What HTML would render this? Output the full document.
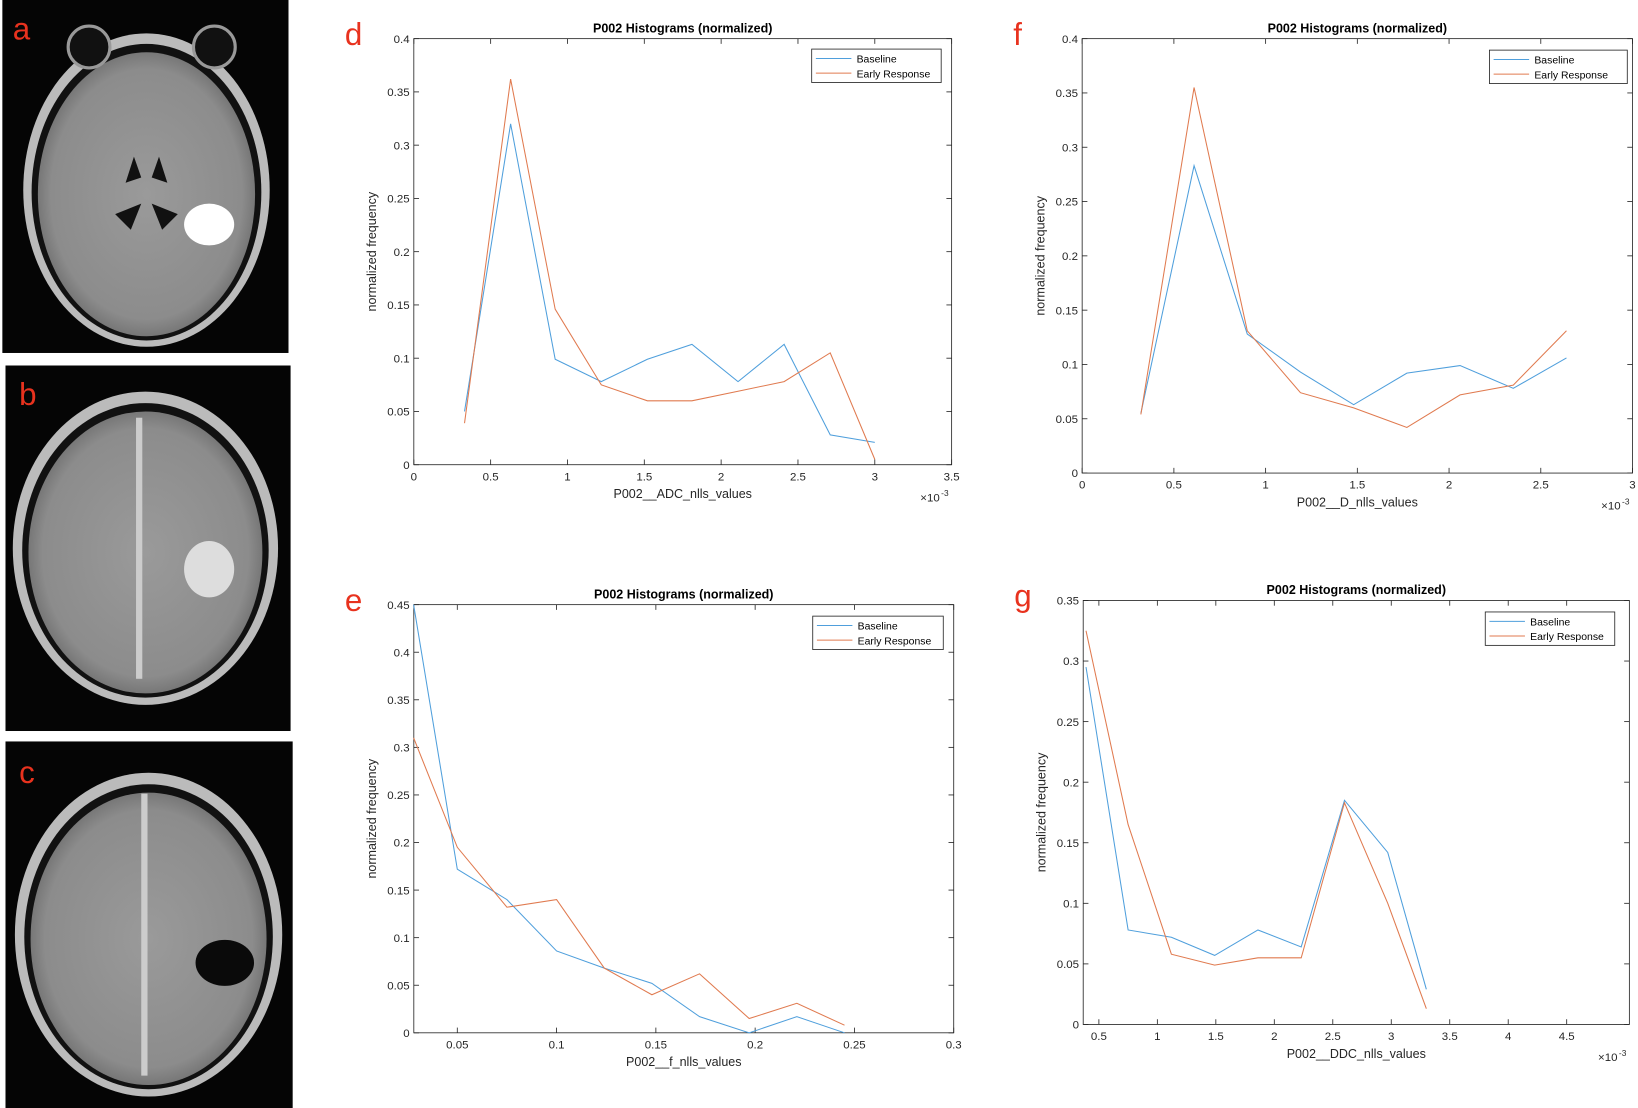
<!DOCTYPE html>
<html><head><meta charset="utf-8"><style>
html,body{margin:0;padding:0;background:#fff;}
svg{display:block;font-family:"Liberation Sans",sans-serif;}
</style></head><body>
<svg id="fig" width="1638" height="1108" viewBox="0 0 1568 1061" xmlns="http://www.w3.org/2000/svg">
<defs>
<radialGradient id="brain" cx="50%" cy="50%" r="55%"><stop offset="0" stop-color="#9a9a9a"/><stop offset="0.8" stop-color="#8c8c8c"/><stop offset="1" stop-color="#666"/></radialGradient>
</defs>
<g>
<rect x="2" y="0" width="274" height="338" fill="#050505"/>
<ellipse cx="140" cy="182" rx="118" ry="150" fill="#bbb"/>
<ellipse cx="140" cy="184" rx="110" ry="142" fill="#111"/>
<ellipse cx="140" cy="186" rx="104" ry="136" fill="url(#brain)"/>
<circle cx="85" cy="45" r="20" fill="#111" stroke="#999" stroke-width="3"/><circle cx="205" cy="45" r="20" fill="#111" stroke="#999" stroke-width="3"/>
<path d="M128 150 L120 175 L135 170 Z M152 150 L160 175 L145 170 Z M110 205 L135 195 L125 220 Z M170 205 L145 195 L155 220 Z" fill="#111"/>
<ellipse cx="200" cy="215" rx="24" ry="20" fill="#fff"/>
<text x="12" y="38" font-size="30" fill="#e8321e">a</text>
</g>
<g>
<rect x="5" y="350" width="273" height="350" fill="#050505"/>
<ellipse cx="139" cy="525" rx="127" ry="150" fill="#bbb"/>
<ellipse cx="139" cy="527" rx="118" ry="141" fill="#111"/>
<ellipse cx="139" cy="529" rx="112" ry="135" fill="url(#brain)"/>
<rect x="130" y="400" width="6" height="250" fill="#ccc"/>
<ellipse cx="200" cy="545" rx="24" ry="27" fill="#ddd"/>
<text x="18" y="388" font-size="30" fill="#e8321e">b</text>
</g>
<g>
<rect x="5" y="710" width="275" height="351" fill="#050505"/>
<ellipse cx="142" cy="895" rx="128" ry="155" fill="#bbb"/>
<ellipse cx="142" cy="897" rx="119" ry="146" fill="#111"/>
<ellipse cx="142" cy="899" rx="113" ry="140" fill="url(#brain)"/>
<rect x="135" y="760" width="6" height="270" fill="#ccc"/>
<ellipse cx="215" cy="922" rx="28" ry="22" fill="#0a0a0a"/>
<text x="18" y="750" font-size="30" fill="#e8321e">c</text>
</g>
</svg>
<script>
// Chart data
const dX=[0.33,0.63,0.92,1.22,1.52,1.81,2.11,2.41,2.71,3.0];
const dBase=[0.05,0.32,0.099,0.078,0.099,0.113,0.078,0.113,0.028,0.021];
const dEarly=[0.039,0.362,0.146,0.075,0.06,0.06,0.069,0.078,0.105,0.005];
const fX=[0.32,0.61,0.9,1.19,1.48,1.77,2.06,2.35,2.64];
const fBase=[0.055,0.283,0.128,0.093,0.063,0.092,0.099,0.078,0.106];
const fEarly=[0.054,0.355,0.131,0.074,0.06,0.042,0.072,0.081,0.131];
const eX=[0.028,0.05,0.075,0.1,0.124,0.148,0.172,0.197,0.221,0.245];
const eBase=[0.45,0.172,0.14,0.086,0.068,0.052,0.017,0,0.017,0];
const eEarly=[0.31,0.195,0.132,0.14,0.068,0.04,0.062,0.015,0.031,0.008];
const gX=[0.39,0.75,1.12,1.49,1.86,2.23,2.6,2.97,3.3];
const gBase=[0.295,0.078,0.072,0.057,0.078,0.064,0.185,0.142,0.029];
const gEarly=[0.325,0.165,0.058,0.049,0.055,0.055,0.183,0.1,0.013];
const dXTicks=["0","0.5","1","1.5","2","2.5","3","3.5"];
const dYTicks=["0","0.05","0.1","0.15","0.2","0.25","0.3","0.35","0.4"];
const fXTicks=["0","0.5","1","1.5","2","2.5","3"];
const fYTicks=["0","0.05","0.1","0.15","0.2","0.25","0.3","0.35","0.4"];
const eXTicks=["0.05","0.1","0.15","0.2","0.25","0.3"];
const eYTicks=["0","0.05","0.1","0.15","0.2","0.25","0.3","0.35","0.4","0.45"];
const gXTicks=["0.5","1","1.5","2","2.5","3","3.5","4","4.5"];
const gYTicks=["0","0.05","0.1","0.15","0.2","0.25","0.3","0.35"];

const NS="http://www.w3.org/2000/svg";
const svg=document.getElementById('fig');
function mk(tag,attrs,parent){const e=document.createElementNS(NS,tag);for(const k in attrs)e.setAttribute(k,attrs[k]);(parent||svg).appendChild(e);return e;}
function txt(s,attrs,parent){const e=mk('text',attrs,parent);e.textContent=s;return e;}

function chart(c){
  const g=mk('g',{});
  
  
  const sx=v=>c.x0+(v-c.xmin)/(c.xmax-c.xmin)*(c.x1-c.x0);
  const sy=v=>c.y0-(v-c.ymin)/(c.ymax-c.ymin)*(c.y0-c.y1);
  const box=mk('rect',{x:c.x0,y:c.y1,width:c.x1-c.x0,height:c.y0-c.y1,fill:'#fff',stroke:'#262626','stroke-width':0.8},g);
  
  
  c.xt.forEach(t=>{const v=parseFloat(t),x=sx(v);
    mk('line',{x1:x,x2:x,y1:c.y0,y2:c.y0-5,stroke:'#262626','stroke-width':0.8},g);
    mk('line',{x1:x,x2:x,y1:c.y1,y2:c.y1+5,stroke:'#262626','stroke-width':0.8},g);
    const l=txt(t,{x:x,y:c.y0+15,'font-size':11,'text-anchor':'middle',fill:'#262626'},g);
    
    
  });
  c.yt.forEach(t=>{const v=parseFloat(t),y=sy(v);
    mk('line',{x1:c.x0,x2:c.x0+5,y1:y,y2:y,stroke:'#262626','stroke-width':0.8},g);
    mk('line',{x1:c.x1,x2:c.x1-5,y1:y,y2:y,stroke:'#262626','stroke-width':0.8},g);
    const l=txt(t,{x:c.x0-4,y:y+4,'font-size':11,'text-anchor':'end',fill:'#262626'},g);
    
    
  });
  const series=[[c.base,'#4f9fdc','baseline-line'],[c.early,'#e07a4f','early-response-line']];
  series.forEach(([ys,col,nm])=>{
    const p=mk('polyline',{points:c.xs.map((x,i)=>sx(x)+','+sy(ys[i])).join(' '),fill:'none',stroke:col,'stroke-width':1},g);
    
    
  });
  const t=txt('P002 Histograms (normalized)',{x:(c.x0+c.x1)/2,y:c.y1-6,'font-size':12,'font-weight':'bold','text-anchor':'middle',fill:'#000'},g);
  
  
  const xl=txt(c.xlabel,{x:(c.x0+c.x1)/2,y:c.y0+32,'font-size':12,'text-anchor':'middle',fill:'#262626'},g);
  
  
  const yl=txt('normalized frequency',{x:0,y:0,'font-size':12,'text-anchor':'middle',fill:'#262626',transform:`translate(${c.x0-36},${(c.y0+c.y1)/2}) rotate(-90)`},g);
  
  
  if(c.exp){const ex=txt('×10',{x:c.x1-30,y:c.y0+35,'font-size':11,fill:'#262626'},g);
    
    
    txt('-3',{x:c.x1-10,y:c.y0+30,'font-size':8,fill:'#262626'},g);}
  const lg=mk('g',{},g);
  
  
  mk('rect',{x:c.lx,y:c.ly,width:c.lw,height:32,fill:'#fff',stroke:'#262626','stroke-width':0.8},lg);
  mk('line',{x1:c.lx+4,x2:c.lx+38,y1:c.ly+9,y2:c.ly+9,stroke:'#4f9fdc'},lg);
  mk('line',{x1:c.lx+4,x2:c.lx+38,y1:c.ly+23,y2:c.ly+23,stroke:'#e07a4f'},lg);
  const e1=txt('Baseline',{x:c.lx+43,y:c.ly+13,'font-size':10,fill:'#000'},lg);
  
  
  const e2=txt('Early Response',{x:c.lx+43,y:c.ly+27,'font-size':10,fill:'#000'},lg);
  
  
  const pl=txt(c.letter,{x:c.x0-66,y:c.y1+6,'font-size':30,fill:'#e8321e'},g);
  
  
}
chart({name:'chart-d-adc',letter:'d',x0:396,x1:911,y0:445,y1:37,xmin:0,xmax:3.5,ymin:0,ymax:0.4,xs:dX,base:dBase,early:dEarly,xt:dXTicks,yt:dYTicks,xlabel:'P002__ADC_nlls_values',exp:true,lx:777,ly:47,lw:124});
chart({name:'chart-f-d',letter:'f',x0:1036,x1:1563,y0:453,y1:37,xmin:0,xmax:3,ymin:0,ymax:0.4,xs:fX,base:fBase,early:fEarly,xt:fXTicks,yt:fYTicks,xlabel:'P002__D_nlls_values',exp:true,lx:1426,ly:48,lw:132});
chart({name:'chart-e-f',letter:'e',x0:396,x1:913,y0:989,y1:579,xmin:0.0281,xmax:0.3,ymin:0,ymax:0.45,xs:eX,base:eBase,early:eEarly,xt:eXTicks,yt:eYTicks,xlabel:'P002__f_nlls_values',exp:false,lx:778,ly:590,lw:125});
chart({name:'chart-g-ddc',letter:'g',x0:1037,x1:1560,y0:981,y1:575,xmin:0.366,xmax:5.036,ymin:0,ymax:0.35,xs:gX,base:gBase,early:gEarly,xt:gXTicks,yt:gYTicks,xlabel:'P002__DDC_nlls_values',exp:true,lx:1422,ly:586,lw:124});
</script>
</body></html>
